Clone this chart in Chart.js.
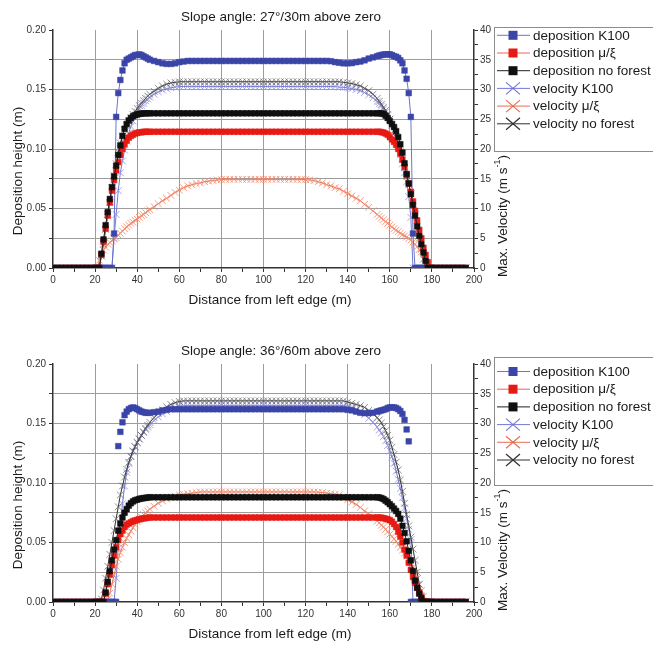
<!DOCTYPE html>
<html><head><meta charset="utf-8">
<script src="https://cdn.jsdelivr.net/npm/chart.js@4.4.0/dist/chart.umd.min.js"></script>
<style>
html,body{margin:0;padding:0;background:#fff;}
#wrap{position:relative;width:653px;height:646px;overflow:hidden;background:#fff;}
canvas{position:absolute;left:0;}
#warn{position:absolute;left:0;top:0;color:red;font:10px sans-serif;}
</style></head><body>
<div id="wrap">
<canvas id="c1" width="653" height="330" style="top:0px"></canvas>
<canvas id="c2" width="653" height="316" style="top:330px"></canvas>
<div id="warn"></div>
</div>
<script>
// ---------- DATA ----------
const panelTitles = ['Slope angle: 27°/30m above zero', 'Slope angle: 36°/60m above zero'];
const seriesLabels = ['deposition K100','deposition μ/ξ','deposition no forest','velocity K100','velocity μ/ξ','velocity no forest'];
const xAxisTitle = 'Distance from left edge (m)';
const yLeftTitle = 'Deposition height (m)';
const yRightTitle = 'Max. Velocity (m s';
const yRightSup = '-1';
const xRange = [0, 200];
const yLeftRange = [0, 0.20];
const yRightRange = [0, 40];

// distance from left edge (m)
const distance = [
 0,2,4,6,8,10,12,14,16,18,
 20,21,22,23,24,25,26,27,28,29,30,31,32,33,34,35,36,37,38,39,40,41,42,43,44,45,46,
 48,50,52,54,56,58,60,62,64,66,68,70,72,74,76,78,80,82,84,86,88,90,92,94,96,98,
 100,102,104,106,108,110,112,114,116,118,120,122,124,126,128,130,132,134,136,138,140,142,144,146,148,150,152,
 154,155,156,157,158,159,160,161,162,163,164,165,166,167,168,169,170,171,172,173,174,175,176,177,178,179,180,
 182,184,186,188,190,192,194,196];

// ---- panel 1: 27°/30m ----
const dep_k100_27 = [
 0,0,0,0,0,0,0,0,0,0,
 0,0,0,0,0,0,0,0,0,0.029,0.127,0.147,0.158,0.166,0.172,0.175,0.176,0.177,0.178,0.179,0.179,0.1795,0.179,0.178,0.177,0.176,0.175,
 0.174,0.173,0.172,0.1715,0.1715,0.172,0.173,0.1735,
 0.174,0.174,0.174,0.174,0.174,0.174,0.174,0.174,0.174,0.174,
 0.174,0.174,0.174,0.174,0.174,0.174,0.174,0.174,0.174,0.174,
 0.174,0.174,0.174,0.174,0.174,0.174,0.174,0.174,0.174,0.174,
 0.174,0.174,0.174,0.174,
 0.1738,0.173,0.1725,0.172,0.172,0.1722,0.173,0.1735,0.1745,0.176,0.177,
 0.178,0.1785,0.179,0.1793,0.1795,0.1796,0.1795,0.179,0.178,0.1775,0.1765,0.1745,0.172,0.166,0.159,0.147,0.127,0.029,0,0,0,0,0,0,0,0,0,
 0,0,0,0,0,0,0,0];
const dep_mu_27 = [
 0,0,0,0,0,0,0,0,0,0,
 0,0,0,0.011,0.022,0.033,0.044,0.055,0.065,0.074,0.082,0.089,0.095,0.100,0.104,0.107,0.1095,0.111,0.112,0.113,0.1135,0.114,0.114,0.1145,0.1145,0.1145,0.1145,
 0.1145,0.1145,0.1145,0.1145,0.1145,0.1145,0.1145,0.1145,0.1145,0.1145,
 0.1145,0.1145,0.1145,0.1145,0.1145,0.1145,0.1145,0.1145,0.1145,0.1145,
 0.1145,0.1145,0.1145,0.1145,0.1145,0.1145,0.1145,0.1145,0.1145,0.1145,
 0.1145,0.1145,0.1145,0.1145,0.1145,0.1145,0.1145,0.1145,0.1145,0.1145,
 0.1145,0.1145,0.1145,0.1145,0.1145,0.1145,0.1145,0.1145,0.1145,0.1145,
 0.1145,0.1145,0.1145,
 0.1145,0.1145,0.1142,0.1138,0.113,0.112,0.110,0.108,0.106,0.1035,0.100,0.096,0.091,0.085,0.078,0.071,0.064,0.056,0.048,0.040,0.032,0.025,0.017,0.011,0.005,0,0,
 0,0,0,0,0,0,0,0];
const dep_nof_27 = [
 0,0,0,0,0,0,0,0,0,0,
 0,0,0,0.012,0.024,0.036,0.047,0.058,0.068,0.077,0.086,0.095,0.103,0.111,0.117,0.121,0.124,0.126,0.1275,0.1285,0.129,0.1295,0.1297,0.13,0.13,0.13,0.13,
 0.13,0.13,0.13,0.13,0.13,0.13,0.13,0.13,0.13,0.13,
 0.13,0.13,0.13,0.13,0.13,0.13,0.13,0.13,0.13,0.13,
 0.13,0.13,0.13,0.13,0.13,0.13,0.13,0.13,0.13,0.13,
 0.13,0.13,0.13,0.13,0.13,0.13,0.13,0.13,0.13,0.13,
 0.13,0.13,0.13,0.13,0.13,0.13,0.13,0.13,0.13,0.13,
 0.13,0.13,0.13,
 0.13,0.13,0.13,0.1295,0.128,0.126,0.1235,0.121,0.1185,0.115,0.110,0.104,0.097,0.088,0.079,0.071,0.062,0.053,0.044,0.035,0.027,0.020,0.013,0.006,0,0,0,
 0,0,0,0,0,0,0,0];
const vel_k100_27 = [
 0,0,0,0,0,0,0,0,0,0,
 0,0,0,0,0,0,0,0,0,5,9,13,16,18,19.8,21.3,22.7,23.8,24.7,25.5,26.2,26.8,27.3,27.7,28.1,28.4,28.7,
 29.2,29.6,29.9,30.1,30.3,30.4,30.5,
 30.5,30.5,30.5,30.5,30.5,30.5,30.5,30.5,30.5,30.5,
 30.5,30.5,30.5,30.5,30.5,30.5,30.5,30.5,30.5,30.5,
 30.5,30.5,30.5,30.5,30.5,30.5,30.5,30.5,30.5,30.5,
 30.5,30.5,30.5,30.5,30.5,30.5,30.5,
 30.4,30.35,30.3,30.15,30,29.8,29.5,29.1,28.6,
 28,27.6,27.2,26.7,26.2,25.6,25,24.2,23.2,22,20.5,19,17.5,16,14.5,12,8.5,0,0,0,0,0,0,0,0,0,0,
 0,0,0,0,0,0,0,0];
const vel_mu_27 = [
 0,0,0,0,0,0,0,0,0,0,
 0,0,1.3,2.2,3,3.5,4,4.3,4.6,4.9,5.1,5.5,5.8,6.2,6.6,6.9,7.2,7.5,7.7,8.0,8.2,8.5,8.8,9.0,9.3,9.6,9.8,
 10.3,10.8,11.3,11.7,12.2,12.7,13.1,13.5,13.8,14.0,14.2,14.3,14.5,14.6,14.7,14.8,14.85,
 14.9,14.9,14.9,14.9,14.9,14.9,14.9,14.9,14.9,14.9,
 14.9,14.9,14.9,14.9,14.9,14.9,14.9,14.9,14.9,
 14.85,14.8,14.7,14.5,14.3,14.0,13.8,13.5,13.3,12.9,12.5,12.1,11.7,11.3,10.7,10.2,9.6,
 9.0,8.7,8.4,8.1,7.8,7.5,7.2,6.9,6.6,6.35,6.1,5.85,5.6,5.4,5.2,4.95,4.7,4.35,4.0,3.6,3.1,2.7,2.2,1.5,0.6,0,0,
 0,0,0,0,0,0,0,0];
const vel_nof_27 = [
 0,0,0,0,0,0,0,0,0,0,
 0,0,0,2,4,6.5,9,11,13.5,15.5,17.5,19.5,21,22.2,23.2,24,24.7,25.3,25.8,26.3,26.8,27.3,27.7,28.1,28.5,28.9,29.2,
 29.7,30.2,30.6,30.9,31.1,31.2,31.3,
 31.3,31.3,31.3,31.3,31.3,31.3,31.3,31.3,31.3,31.3,
 31.3,31.3,31.3,31.3,31.3,31.3,31.3,31.3,31.3,31.3,
 31.3,31.3,31.3,31.3,31.3,31.3,31.3,31.3,31.3,31.3,
 31.3,31.3,31.3,31.3,31.3,31.3,31.3,31.3,
 31.2,31.1,31,30.8,30.6,30.2,29.8,29.2,
 28.5,28,27.5,27,26.5,25.8,25,24,23,22,20.8,19.6,18.3,16.9,15.5,14,12.5,10.8,9,7,5,3.2,1.5,0,0,0,0,
 0,0,0,0,0,0,0,0];

// ---- panel 2: 36°/60m ----
const dep_k100_36 = [
 0,0,0,0,0,0,0,0,0,0,
 0,0,0,0,0,0,0,0,0,0,0,0.131,0.143,0.151,0.157,0.160,0.162,0.163,0.1635,0.163,0.162,0.161,0.160,0.1595,0.159,0.159,0.159,
 0.1595,0.160,0.161,0.1615,
 0.162,0.162,0.162,0.162,0.162,0.162,0.162,0.162,0.162,0.162,
 0.162,0.162,0.162,0.162,0.162,0.162,0.162,0.162,0.162,0.162,
 0.162,0.162,0.162,0.162,0.162,0.162,0.162,0.162,0.162,0.162,
 0.162,0.162,0.162,0.162,0.162,0.162,0.162,0.162,0.162,0.162,
 0.162,0.162,
 0.1615,0.161,0.160,0.159,0.1587,0.1587,0.159,
 0.160,0.1605,0.161,0.1615,0.162,0.163,0.1635,0.1636,0.1635,0.163,0.162,0.1605,0.158,0.153,0.145,0.135,0,0,0,0,0,0,0,0,0,0,0,
 0,0,0,0,0,0,0,0];
const dep_mu_36 = [
 0,0,0,0,0,0,0,0,0,0,
 0,0,0,0,0,0.007,0.015,0.023,0.031,0.039,0.046,0.052,0.057,0.060,0.063,0.065,0.066,0.067,0.068,0.0685,0.069,0.0695,0.070,0.0703,0.0705,0.0708,0.071,
 0.071,0.071,0.071,0.071,0.071,0.071,0.071,0.071,0.071,0.071,
 0.071,0.071,0.071,0.071,0.071,0.071,0.071,0.071,0.071,0.071,
 0.071,0.071,0.071,0.071,0.071,0.071,0.071,0.071,0.071,0.071,
 0.071,0.071,0.071,0.071,0.071,0.071,0.071,0.071,0.071,0.071,
 0.071,0.071,0.071,0.071,0.071,0.071,0.071,0.071,0.071,0.071,
 0.071,0.071,0.071,
 0.071,0.071,0.0708,0.0705,0.070,0.0695,0.0688,0.0675,0.0655,0.063,0.059,0.055,0.050,0.044,0.039,0.033,0.027,0.021,0.016,0.012,0.008,0.004,0.001,0,0,0,0,
 0,0,0,0,0,0,0,0];
const dep_nof_36 = [
 0,0,0,0,0,0,0,0,0,0,
 0,0,0,0,0,0.008,0.017,0.026,0.035,0.044,0.052,0.060,0.066,0.071,0.075,0.078,0.081,0.083,0.0845,0.0855,0.086,0.0866,0.087,0.0873,0.0875,0.0878,0.088,
 0.088,0.088,0.088,0.088,0.088,0.088,0.088,0.088,0.088,0.088,
 0.088,0.088,0.088,0.088,0.088,0.088,0.088,0.088,0.088,0.088,
 0.088,0.088,0.088,0.088,0.088,0.088,0.088,0.088,0.088,0.088,
 0.088,0.088,0.088,0.088,0.088,0.088,0.088,0.088,0.088,0.088,
 0.088,0.088,0.088,0.088,0.088,0.088,0.088,0.088,0.088,0.088,
 0.088,0.088,0.088,
 0.088,0.0878,0.0873,0.0865,0.0852,0.0838,0.0822,0.0805,0.0785,0.0765,0.074,0.070,0.064,0.058,0.051,0.043,0.035,0.026,0.018,0.012,0.007,0.003,0,0,0,0,0,
 0,0,0,0,0,0,0,0];
const vel_k100_36 = [
 0,0,0,0,0,0,0,0,0,0,
 0,0,0,0,0,0,0,0,0,0,4,9,13,16.5,19.5,21.8,23.3,24.4,25.3,26.1,26.8,27.4,28,28.5,29,29.4,29.8,
 30.5,31.1,31.6,32,32.4,32.7,32.9,
 33,33,33,33,33,33,33,33,33,33,
 33,33,33,33,33,33,33,33,33,33,
 33,33,33,33,33,33,33,33,33,33,
 33,33,33,33,33,33,33,33,33,
 32.9,32.7,32.4,32,31.5,30.9,30.2,
 29.4,28.9,28.4,27.8,27.1,26.3,25.4,24.4,23.3,22,20.6,19.1,17.5,15.8,14,12.2,10.5,0,0,0,0,0,0,0,0,0,0,
 0,0,0,0,0,0,0,0];
const vel_mu_36 = [
 0,0,0,0,0,0,0,0,0,0,
 0,0,0,0,0,0,0.5,1.5,3,4.5,6,7.2,8.3,9.2,10,10.7,11.3,11.9,12.5,13,13.5,13.9,14.3,14.7,15,15.3,15.6,
 16.1,16.6,17,17.3,17.6,17.8,18,18.1,18.2,18.3,18.4,18.5,
 18.5,18.5,18.5,18.5,18.5,18.5,18.5,18.5,18.5,18.5,
 18.5,18.5,18.5,18.5,18.5,18.5,18.5,18.5,18.5,18.5,
 18.5,18.5,18.5,18.5,18.5,18.5,18.5,
 18.45,18.4,18.3,18.2,18.1,18,17.6,17.2,16.8,16.4,15.9,15.3,14.8,14.2,
 13.6,13.3,12.9,12.6,12.2,11.8,11.4,11,10.6,10.2,9.7,9.2,8.7,8.2,7.7,7.2,6.6,5.8,4.9,3.9,2.9,1.9,0.9,0,0,0,0,
 0,0,0,0,0,0,0,0];
const vel_nof_36 = [
 0,0,0,0,0,0,0,0,0,0,
 0,0,0,0.5,2,4,6,8,10,12,14,16,18,19.5,21,22.3,23.5,24.5,25.4,26.1,26.8,27.4,28,28.6,29.2,29.7,30.2,
 31,31.7,32.3,32.8,33.2,33.5,33.7,
 33.8,33.8,33.8,33.8,33.8,33.8,33.8,33.8,33.8,33.8,
 33.8,33.8,33.8,33.8,33.8,33.8,33.8,33.8,33.8,33.8,
 33.8,33.8,33.8,33.8,33.8,33.8,33.8,33.8,33.8,33.8,
 33.8,33.8,33.8,33.8,33.8,33.8,33.8,33.8,33.8,
 33.6,33.4,33.2,33,32.7,32.2,31.6,
 31,30.6,30.1,29.5,28.8,28,27.2,26,24.8,23.5,22.2,20.5,18.6,16.6,14.7,12.8,10.9,8.9,7,5,3,1,0,0,0,0,0,
 0,0,0,0,0,0,0,0];

// ---------- STYLE ----------
const FONT = '"Liberation Sans", Arial, Helvetica, sans-serif';
const GRID = '#9c9c9c';
const AXIS = '#333333';
const CLEAR = 'rgba(0,0,0,0)';
const STY = {
  depK100: {c:'#3b45a8', line:'rgba(100,110,205,0.95)'},
  depMu:   {c:'#e61a14', line:'rgba(235,80,80,0.9)'},
  depNof:  {c:'#101010', line:'#202020'},
  velK100: {c:'rgba(150,150,225,0.85)', line:'rgba(105,115,210,0.95)'},
  velMu:   {c:'rgba(245,140,110,0.85)', line:'rgba(228,95,65,0.9)'},
  velNof:  {c:'rgba(95,95,95,0.7)', line:'#303030'}
};

const warn = [];
function pts(name, ys) {
  if (ys.length !== distance.length) warn.push(name + ':' + ys.length);
  return distance.map((x, i) => ({x: x, y: ys[i]}));
}
function sq(label, ys, s, showLine) {
  return {label, data: pts(label, ys), yAxisID:'y', pointStyle:'rect', pointRadius:4,
    pointBackgroundColor:s.c, pointBorderColor:s.c, pointBorderWidth:0.5,
    borderColor:s.line, borderWidth:1, showLine: showLine, tension:0, fill:false};
}
function xx(label, ys, s) {
  return {label, data: pts(label, ys), yAxisID:'y2', pointStyle:'crossRot', pointRadius:4.8,
    pointBackgroundColor:s.c, pointBorderColor:s.c, pointBorderWidth:1,
    borderColor:s.line, borderWidth:1, showLine:true, tension:0, fill:false};
}
function isMult(v, m) { return Math.abs(v / m - Math.round(v / m)) < 1e-6; }

function drawLegend(ctx, box, y0, dy) {
  ctx.save();
  ctx.fillStyle = '#fff';
  ctx.fillRect(box.x, box.y, box.w, box.h);
  ctx.strokeStyle = '#8c8c8c'; ctx.lineWidth = 1;
  ctx.strokeRect(box.x + 0.5, box.y + 0.5, box.w, box.h);
  const keys = ['depK100','depMu','depNof','velK100','velMu','velNof'];
  ctx.font = '13.5px ' + FONT; ctx.textBaseline = 'middle'; ctx.textAlign = 'left';
  keys.forEach((k, i) => {
    const y = y0 + i * dy, s = STY[k], cx = 513;
    ctx.strokeStyle = s.line; ctx.lineWidth = 1;
    ctx.beginPath(); ctx.moveTo(497, y); ctx.lineTo(530, y); ctx.stroke();
    if (i < 3) {
      ctx.fillStyle = s.c; ctx.fillRect(cx - 4.5, y - 4.5, 9, 9);
    } else {
      ctx.strokeStyle = s.line; ctx.lineWidth = 1.2;
      ctx.beginPath();
      ctx.moveTo(cx - 7, y - 6); ctx.lineTo(cx + 7, y + 6);
      ctx.moveTo(cx - 7, y + 6); ctx.lineTo(cx + 7, y - 6);
      ctx.stroke();
    }
    ctx.fillStyle = '#1a1a1a';
    ctx.fillText(seriesLabels[i], 533, y + 0.5);
  });
  ctx.restore();
}

const textPlugin = {
  id: 'panelText',
  afterDraw(chart, args, o) {
    const ctx = chart.ctx, a = chart.chartArea;
    ctx.save();
    ctx.fillStyle = '#1a1a1a';
    ctx.font = '13.5px ' + FONT;
    ctx.textAlign = 'center'; ctx.textBaseline = 'middle';
    ctx.fillText(o.title, 281, a.top - 13);
    ctx.fillText(xAxisTitle, 270, a.bottom + 32);
    ctx.save();
    ctx.translate(18.5, a.bottom - 97); ctx.rotate(-Math.PI / 2);
    ctx.fillText(yLeftTitle, 0, 0);
    ctx.restore();
    ctx.save();
    ctx.translate(503, a.bottom - 52); ctx.rotate(-Math.PI / 2);
    ctx.textAlign = 'left';
    const w1 = ctx.measureText(yRightTitle).width;
    ctx.font = '9px ' + FONT;
    const w2 = ctx.measureText(yRightSup).width;
    ctx.font = '13.5px ' + FONT;
    const w3 = ctx.measureText(')').width;
    let x = -(w1 + w2 + w3) / 2;
    ctx.fillText(yRightTitle, x, 0); x += w1;
    ctx.font = '9px ' + FONT; ctx.fillText(yRightSup, x, -5); x += w2;
    ctx.font = '13.5px ' + FONT; ctx.fillText(')', x, 0);
    ctx.restore();
    ctx.restore();
    drawLegend(ctx, o.box, o.rowY, 17.7);
  }
};

function makeChart(id, title, s, pad, box, rowY, blueLine) {
  const datasets = [
    sq(seriesLabels[2], s.depNof, STY.depNof, true),
    sq(seriesLabels[1], s.depMu, STY.depMu, true),
    sq(seriesLabels[0], s.depK100, STY.depK100, blueLine),
    xx(seriesLabels[5], s.velNof, STY.velNof),
    xx(seriesLabels[4], s.velMu, STY.velMu),
    xx(seriesLabels[3], s.velK100, STY.velK100)
  ];
  const tickFont = {family: FONT, size: 10};
  return new Chart(document.getElementById(id), {
    type: 'line',
    data: {datasets},
    plugins: [textPlugin],
    options: {
      responsive: false, animation: false, devicePixelRatio: 1,
      layout: {padding: pad},
      plugins: {legend: {display: false}, tooltip: {enabled: false}, panelText: {title, box, rowY}},
      elements: {point: {hoverRadius: 0}},
      scales: {
        x: {type: 'linear', min: xRange[0], max: xRange[1],
          afterFit: sc => { sc.height = 30; },
          ticks: {stepSize: 10, autoSkip: false, maxRotation: 0, padding: 2, font: tickFont, color: '#333',
            callback: v => (isMult(v, 20) ? String(Math.round(v)) : '')},
          grid: {color: c => (c.tick && isMult(c.tick.value, 20) && c.tick.value > 0 && c.tick.value < 200) ? GRID : CLEAR,
            lineWidth: 1, tickColor: AXIS, tickLength: 4, drawTicks: true},
          border: {color: AXIS, width: 1.5}},
        y: {type: 'linear', position: 'left', min: yLeftRange[0], max: yLeftRange[1],
          afterFit: sc => { sc.width = 53; },
          ticks: {stepSize: 0.025, autoSkip: false, padding: 3, font: tickFont, color: '#333',
            callback: v => (isMult(v, 0.05) ? v.toFixed(2) : '')},
          grid: {color: c => (c.tick && c.tick.value > 0.001 && c.tick.value < 0.199) ? GRID : CLEAR,
            lineWidth: 1, tickColor: AXIS, tickLength: 4},
          border: {color: AXIS, width: 1.5}},
        y2: {type: 'linear', position: 'right', min: yRightRange[0], max: yRightRange[1],
          afterFit: sc => { sc.width = 20; },
          ticks: {stepSize: 2.5, autoSkip: false, padding: 2, font: tickFont, color: '#333',
            callback: v => (isMult(v, 5) ? String(Math.round(v)) : '')},
          grid: {drawOnChartArea: false, tickColor: AXIS, tickLength: 4},
          border: {color: AXIS, width: 1.5}}
      }
    }
  });
}

makeChart('c1', panelTitles[0],
  {depK100: dep_k100_27, depMu: dep_mu_27, depNof: dep_nof_27, velK100: vel_k100_27, velMu: vel_mu_27, velNof: vel_nof_27},
  {left: 0, top: 30, right: 159, bottom: 32}, {x: 494, y: 27, w: 170, h: 124}, 35.3, true);
makeChart('c2', panelTitles[1],
  {depK100: dep_k100_36, depMu: dep_mu_36, depNof: dep_nof_36, velK100: vel_k100_36, velMu: vel_mu_36, velNof: vel_nof_36},
  {left: 0, top: 34, right: 159, bottom: 14}, {x: 494, y: 27, w: 170, h: 128}, 41.5, false);
if (warn.length) document.getElementById('warn').textContent = warn.join(' ');
</script>
</body></html>
